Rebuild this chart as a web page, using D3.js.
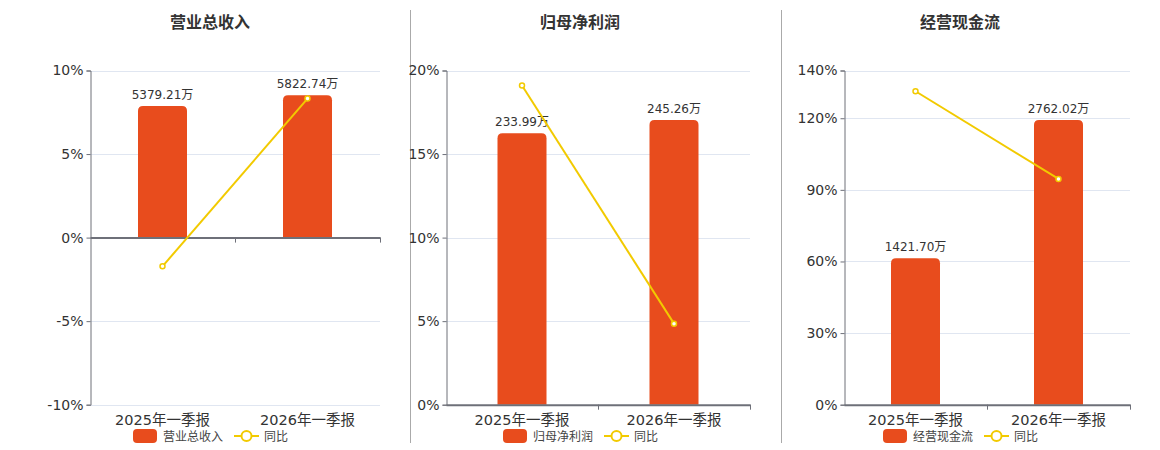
<!DOCTYPE html>
<html>
<head>
<meta charset="utf-8">
<script src="https://cdn.jsdelivr.net/npm/d3@7"></script>
<style>
  body { margin: 0; background: #fff; }
  svg text { font-family: "DejaVu Sans", "Noto Sans CJK SC", sans-serif; }
</style>
</head>
<body>
<div id="chart"></div>
<script>
// categories shared by all three panels
const categories = ["2025年一季报", "2026年一季报"];

// bar values (万) and year-on-year growth (%)
const revenue = [5379.21, 5822.74];
const revenueYoy = [-1.72, 8.32];
const netProfit = [233.99, 245.26];
const netProfitYoy = [19.1, 4.85];
const cashFlow = [1421.70, 2762.02];
const cashFlowYoy = [131.3, 94.6];

// y-axis tick labels (%) per panel
const revenueTicks = [-10, -5, 0, 5, 10];
const netProfitTicks = [0, 5, 10, 15, 20];
const cashFlowTicks = [0, 30, 60, 90, 120, 140];

// top of the hidden bar axis
const barAxisMax = [6830, 288, 3242];

const titles = ["营业总收入", "归母净利润", "经营现金流"];

// layout of each panel
const panels = [
    {title: titles[0], bars: revenue, yoy: revenueYoy, ticks: revenueTicks, barMax: barAxisMax[0], left: 90, right: 380, titleX: 210, legendX: 133},
    {title: titles[1], bars: netProfit, yoy: netProfitYoy, ticks: netProfitTicks, barMax: barAxisMax[1], left: 446, right: 750, titleX: 580, legendX: 503},
    {title: titles[2], bars: cashFlow, yoy: cashFlowYoy, ticks: cashFlowTicks, barMax: barAxisMax[2], left: 844, right: 1130, titleX: 960, legendX: 883}
];

const W = 1160, H = 450;
const plotTop = 70.5, plotBottom = 404.7;
const barColor = "#E84C1D", lineColor = "#F2CA00";

const svg = d3.select("#chart").append("svg")
    .attr("width", W)
    .attr("height", H);

// separators between panels
[410, 781].forEach(sx => {
    svg.append("line")
        .attr("x1", sx + 0.5).attr("x2", sx + 0.5)
        .attr("y1", 10).attr("y2", 443)
        .attr("stroke", "#aaa").attr("stroke-width", 1);
});

panels.forEach(p => {
    const g = svg.append("g");

    const yMin = d3.min(p.ticks), yMax = d3.max(p.ticks);
    const y = d3.scaleLinear().domain([yMin, yMax]).range([plotBottom, plotTop]);

    // hidden axis for the bars, zero aligned with the 0% line
    const yBar = d3.scaleLinear()
        .domain([yMin < 0 ? -p.barMax : 0, p.barMax])
        .range([plotBottom, plotTop]);

    const x = d3.scaleBand()
        .domain(categories)
        .range([p.left, p.right]);

    // title
    g.append("text")
        .attr("x", p.titleX)
        .attr("y", 28)
        .attr("text-anchor", "middle")
        .attr("font-size", 16)
        .attr("font-weight", "bold")
        .attr("fill", "#333")
        .text(p.title);

    // gridlines
    g.selectAll(".grid")
        .data(p.ticks)
        .enter()
        .append("line")
        .attr("x1", p.left).attr("x2", p.right)
        .attr("y1", d => Math.round(y(d)) + 0.5)
        .attr("y2", d => Math.round(y(d)) + 0.5)
        .attr("stroke", "#E0E6F1");

    // y axis
    const yAxis = g.append("g")
        .attr("transform", `translate(${p.left + 0.5},0)`)
        .call(d3.axisLeft(y).tickValues(p.ticks).tickFormat(d => d + "%").tickSize(4).tickPadding(3));
    yAxis.select(".domain").attr("stroke", "#6E7079");
    yAxis.selectAll(".tick line").attr("stroke", "#6E7079");
    yAxis.selectAll("text").attr("font-size", 14).attr("fill", "#333");

    // bars with rounded top corners
    const bw = 49;
    const r = 5;
    g.selectAll(".bar")
        .data(p.bars)
        .enter()
        .append("path")
        .attr("fill", barColor)
        .attr("d", (d, i) => {
            const cx = x(categories[i]) + x.bandwidth() / 2;
            const x0 = cx - bw / 2, x1 = cx + bw / 2;
            const y0 = yBar(0), y1 = yBar(d);
            return `M${x0},${y0}V${y1 + r}Q${x0},${y1} ${x0 + r},${y1}H${x1 - r}Q${x1},${y1} ${x1},${y1 + r}V${y0}Z`;
        });

    // bar value labels
    g.selectAll(".val")
        .data(p.bars)
        .enter()
        .append("text")
        .attr("x", (d, i) => x(categories[i]) + x.bandwidth() / 2)
        .attr("y", d => yBar(d) - 7)
        .attr("text-anchor", "middle")
        .attr("font-size", 12)
        .attr("fill", "#333")
        .text(d => d.toFixed(2) + "万");

    // x axis on the zero line
    const xAxis = g.append("g")
        .attr("transform", `translate(0,${y(0)})`)
        .call(d3.axisBottom(x).tickSize(0).tickFormat(""));
    xAxis.select(".domain").attr("stroke", "#6E7079").attr("stroke-width", 2);
    // ticks between categories
    g.selectAll(".xt")
        .data([1, 2])
        .enter()
        .append("line")
        .attr("x1", i => (i === 2 ? p.right : x(categories[i])) + 0.5)
        .attr("x2", i => (i === 2 ? p.right : x(categories[i])) + 0.5)
        .attr("y1", y(0)).attr("y2", y(0) + 5)
        .attr("stroke", "#6E7079");

    // x labels at the bottom
    g.selectAll(".xl")
        .data(categories)
        .enter()
        .append("text")
        .attr("x", d => x(d) + x.bandwidth() / 2)
        .attr("y", 425)
        .attr("text-anchor", "middle")
        .attr("font-size", 14.5)
        .attr("fill", "#333")
        .text(d => d);

    // yoy line
    const line = d3.line()
        .x((d, i) => x(categories[i]) + x.bandwidth() / 2)
        .y(d => y(d));

    g.append("path")
        .datum(p.yoy)
        .attr("fill", "none")
        .attr("stroke", lineColor)
        .attr("stroke-width", 2)
        .attr("d", line);

    g.selectAll(".pt")
        .data(p.yoy)
        .enter()
        .append("circle")
        .attr("cx", (d, i) => x(categories[i]) + x.bandwidth() / 2)
        .attr("cy", d => y(d))
        .attr("r", 2.5)
        .attr("fill", "#fff")
        .attr("stroke", lineColor)
        .attr("stroke-width", 1.5);

    // legend
    const name = p.title;
    const tw = name.length * 12;
    const leg = g.append("g").attr("transform", `translate(${p.legendX},429)`);
    leg.append("rect")
        .attr("width", 24).attr("height", 14)
        .attr("rx", 4)
        .attr("fill", barColor);
    leg.append("text")
        .attr("x", 30).attr("y", 11.5)
        .attr("font-size", 12).attr("fill", "#444")
        .text(name);
    const l2 = 30 + tw + 11;
    leg.append("line")
        .attr("x1", l2).attr("x2", l2 + 25)
        .attr("y1", 7).attr("y2", 7)
        .attr("stroke", lineColor).attr("stroke-width", 2);
    leg.append("circle")
        .attr("cx", l2 + 12.5).attr("cy", 7)
        .attr("r", 5)
        .attr("fill", "#fff")
        .attr("stroke", lineColor).attr("stroke-width", 2);
    leg.append("text")
        .attr("x", l2 + 30).attr("y", 11.5)
        .attr("font-size", 12).attr("fill", "#444")
        .text("同比");
});
</script>
</body>
</html>
